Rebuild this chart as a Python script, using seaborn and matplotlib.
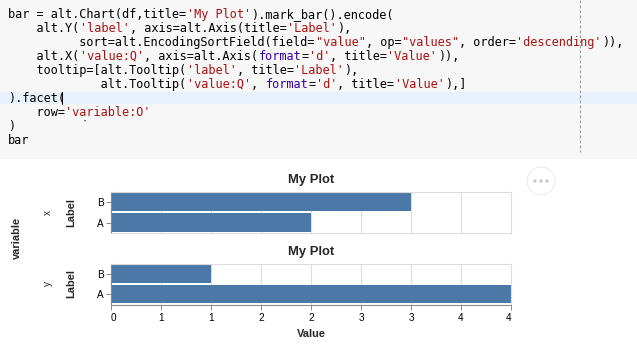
import re
import pandas as pd
import matplotlib
matplotlib.use("Agg")
from matplotlib import pyplot as plt
from matplotlib.patches import Rectangle, Circle
from matplotlib.lines import Line2D
import seaborn as sns

# data
labels = ['A', 'B']
x_values = [2, 3]
y_values = [4, 1]
variables = ['x', 'y']
label_order = ['B', 'A']
value_ticks = [0, 0.5, 1, 1.5, 2, 2.5, 3, 3.5, 4]
value_tick_labels = ['0', '1', '1', '2', '2', '3', '3', '4', '4']

df = pd.DataFrame({'label': labels, 'x': x_values, 'y': y_values})
df = df.melt(id_vars='label', var_name='variable', value_name='value')

code_lines = [
    "bar = alt.Chart(df,title='My Plot').mark_bar().encode(",
    "    alt.Y('label', axis=alt.Axis(title='Label'),",
    "          sort=alt.EncodingSortField(field=\"value\", op=\"values\", order='descending')),",
    "    alt.X('value:Q', axis=alt.Axis(format='d', title='Value')),",
    "    tooltip=[alt.Tooltip('label', title='Label'),",
    "             alt.Tooltip('value:Q', format='d', title='Value'),]",
    ").facet(",
    "    row='variable:O'",
    ")",
    "bar",
]

sns.set_style('white')
plt.rcParams['font.family'] = ['Liberation Sans', 'DejaVu Sans']

W, H = 637, 351
fig = plt.figure(figsize=(W / 100, H / 100), dpi=100)


def fx(x):
    return x / W


def fy(y):
    return 1 - y / H


# - code cell
fig.add_artist(Rectangle((0, fy(159)), 1, 159 / H, transform=fig.transFigure,
                         facecolor='#f7f7f7', edgecolor='none', zorder=0))
fig.add_artist(Rectangle((0, fy(104)), 1, 12 / H, transform=fig.transFigure,
                         facecolor='#e9f1fc', edgecolor='none', zorder=0))
fig.add_artist(Line2D([fx(580), fx(580)], [fy(0), fy(152)], ls=(0, (2.5, 2)),
                      color='#9a9a9a', lw=0.8, transform=fig.transFigure))

cw = 7.16
tok = re.compile(r"'[^']*'|\"[^\"]*\"|\bformat\b")
for i, line in enumerate(code_lines):
    y = fy(14.5 + 14.0 * i)
    pos = 0
    segs = []
    for m in tok.finditer(line):
        if m.start() > pos:
            segs.append((pos, line[pos:m.start()], '#000000'))
        col = '#3300aa' if m.group() == 'format' else '#aa1111'
        segs.append((m.start(), m.group(), col))
        pos = m.end()
    if pos < len(line):
        segs.append((pos, line[pos:], '#000000'))
    for start, text, col in segs:
        fig.text(fx(8 + start * cw), y, text, color=col, fontsize=8.6,
                 family='DejaVu Sans Mono', va='center', ha='left')

# cursor after .facet( and a stray dot
fig.add_artist(Line2D([fx(62)] * 2, [fy(92), fy(104)], color='#000000',
                      lw=0.7, transform=fig.transFigure))
fig.add_artist(Circle((0.85, (H - 120.7) / 100), 0.008, transform=fig.dpi_scale_trans,
                      facecolor='#3344cc', edgecolor='none'))

# - "..." button
fig.add_artist(Circle((5.41, (H - 181) / 100), 0.14, transform=fig.dpi_scale_trans,
                      facecolor='white', edgecolor='#ececec', lw=0.8))
for dx in (-6, 0, 6):
    fig.add_artist(Circle(((541 + dx) / 100, (H - 181) / 100), 0.017,
                          transform=fig.dpi_scale_trans,
                          facecolor='#c8c8c8', edgecolor='none'))

# - facet chart
panels = [(191.5, 233.0), (263.5, 304.5)]
for i, var in enumerate(variables):
    top, bottom = panels[i]
    ax = fig.add_axes([fx(111), fy(bottom), 400 / W, (bottom - top) / H])
    sub = df[df['variable'] == var]
    sns.barplot(data=sub, x='value', y='label', order=label_order, color='#4c78a8',
                saturation=1, width=0.9, linewidth=0, ax=ax)
    ax.set_xlim(0, 4)
    ax.set_ylim(1.5, -0.5)
    ax.set_xlabel('')
    ax.set_ylabel('')
    ax.set_xticks(value_ticks)
    ax.set_axisbelow(True)
    ax.grid(axis='x', color='#dddddd', lw=0.8)
    ax.grid(axis='y', visible=False)
    for s in ax.spines.values():
        s.set_color('#dddddd')
        s.set_linewidth(0.8)
    ax.spines['left'].set_color('#888888')
    ax.tick_params(axis='y', length=3.6, width=0.7, color='#888888', pad=1.5,
                   labelsize=7.2, labelcolor='#000000', left=True)
    if i == len(variables) - 1:
        ax.spines['bottom'].set_color('#888888')
        ax.set_xticklabels(value_tick_labels)
        ax.tick_params(axis='x', length=3.6, width=0.7, color='#888888', pad=2.5,
                       labelsize=7.2, labelcolor='#000000', bottom=True)
        tl = ax.get_xticklabels()
        tl[0].set_ha('left')
        tl[-1].set_ha('right')
    else:
        ax.tick_params(axis='x', bottom=False, labelbottom=False)

    fig.text(fx(311), fy(top - 12), 'My Plot', fontsize=9.4, fontweight='bold',
             ha='center', va='center')
    mid = (top + bottom) / 2
    fig.text(fx(71), fy(mid), 'Label', fontsize=7.9, fontweight='bold',
             rotation=90, ha='center', va='center')
    fig.text(fx(48), fy(mid), var, fontsize=7.2, rotation=90,
             ha='center', va='center')

fig.text(fx(311), fy(334), 'Value', fontsize=7.9, fontweight='bold',
         ha='center', va='center')
fig.text(fx(17), fy(238), 'variable', fontsize=7.9, fontweight='bold',
         rotation=90, ha='center', va='center')

fig.savefig('out.png', dpi=100)
